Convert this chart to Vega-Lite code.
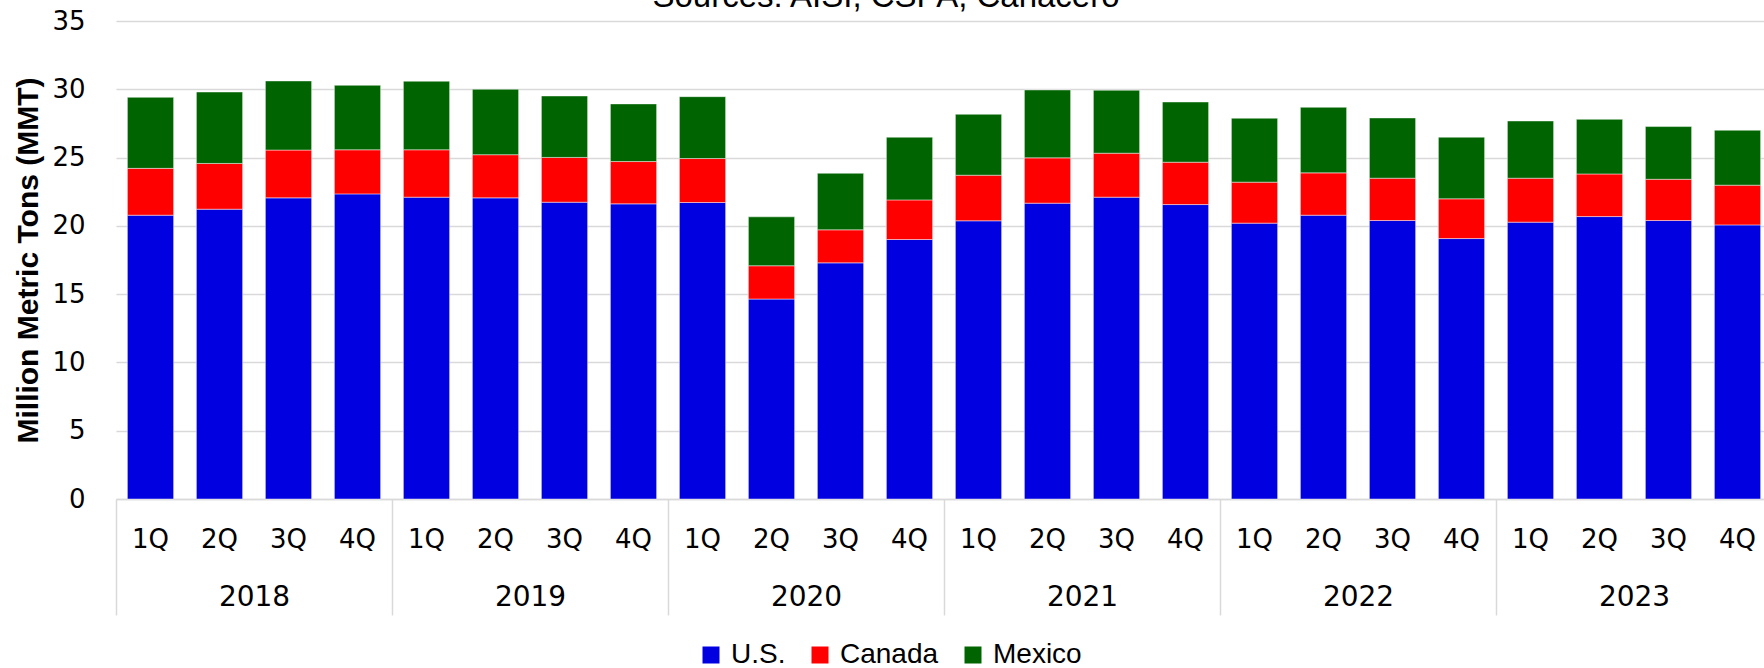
{
  "$schema": "https://vega.github.io/schema/vega-lite/v6.json",
  "autosize": "none",
  "width": 1648,
  "height": 478,
  "padding": {"left": 116, "top": 21, "right": 0, "bottom": 169},
  "background": "white",
  "config": {"view": {"stroke": null}},
  "title": {"text": "Sources: AISI, CSPA, Canacero", "font": "Liberation Sans", "fontSize": 33, "fontWeight": "normal", "color": "#000000", "anchor": "middle", "frame": "group", "dx": -54, "dy": 37, "baseline": "alphabetic", "offset": 5},
  "data": {"values": [
    {"period": "2018 1Q", "country": "U.S.", "mmt": 20.78}, {"period": "2018 1Q", "country": "Canada", "mmt": 3.43}, {"period": "2018 1Q", "country": "Mexico", "mmt": 5.20},
    {"period": "2018 2Q", "country": "U.S.", "mmt": 21.22}, {"period": "2018 2Q", "country": "Canada", "mmt": 3.35}, {"period": "2018 2Q", "country": "Mexico", "mmt": 5.23},
    {"period": "2018 3Q", "country": "U.S.", "mmt": 22.05}, {"period": "2018 3Q", "country": "Canada", "mmt": 3.50}, {"period": "2018 3Q", "country": "Mexico", "mmt": 5.06},
    {"period": "2018 4Q", "country": "U.S.", "mmt": 22.34}, {"period": "2018 4Q", "country": "Canada", "mmt": 3.23}, {"period": "2018 4Q", "country": "Mexico", "mmt": 4.72},
    {"period": "2019 1Q", "country": "U.S.", "mmt": 22.10}, {"period": "2019 1Q", "country": "Canada", "mmt": 3.47}, {"period": "2019 1Q", "country": "Mexico", "mmt": 5.02},
    {"period": "2019 2Q", "country": "U.S.", "mmt": 22.05}, {"period": "2019 2Q", "country": "Canada", "mmt": 3.16}, {"period": "2019 2Q", "country": "Mexico", "mmt": 4.79},
    {"period": "2019 3Q", "country": "U.S.", "mmt": 21.73}, {"period": "2019 3Q", "country": "Canada", "mmt": 3.28}, {"period": "2019 3Q", "country": "Mexico", "mmt": 4.50},
    {"period": "2019 4Q", "country": "U.S.", "mmt": 21.61}, {"period": "2019 4Q", "country": "Canada", "mmt": 3.10}, {"period": "2019 4Q", "country": "Mexico", "mmt": 4.22},
    {"period": "2020 1Q", "country": "U.S.", "mmt": 21.71}, {"period": "2020 1Q", "country": "Canada", "mmt": 3.22}, {"period": "2020 1Q", "country": "Mexico", "mmt": 4.53},
    {"period": "2020 2Q", "country": "U.S.", "mmt": 14.64}, {"period": "2020 2Q", "country": "Canada", "mmt": 2.44}, {"period": "2020 2Q", "country": "Mexico", "mmt": 3.58},
    {"period": "2020 3Q", "country": "U.S.", "mmt": 17.29}, {"period": "2020 3Q", "country": "Canada", "mmt": 2.42}, {"period": "2020 3Q", "country": "Mexico", "mmt": 4.14},
    {"period": "2020 4Q", "country": "U.S.", "mmt": 19.00}, {"period": "2020 4Q", "country": "Canada", "mmt": 2.90}, {"period": "2020 4Q", "country": "Mexico", "mmt": 4.59},
    {"period": "2021 1Q", "country": "U.S.", "mmt": 20.37}, {"period": "2021 1Q", "country": "Canada", "mmt": 3.34}, {"period": "2021 1Q", "country": "Mexico", "mmt": 4.46},
    {"period": "2021 2Q", "country": "U.S.", "mmt": 21.66}, {"period": "2021 2Q", "country": "Canada", "mmt": 3.32}, {"period": "2021 2Q", "country": "Mexico", "mmt": 4.97},
    {"period": "2021 3Q", "country": "U.S.", "mmt": 22.10}, {"period": "2021 3Q", "country": "Canada", "mmt": 3.22}, {"period": "2021 3Q", "country": "Mexico", "mmt": 4.61},
    {"period": "2021 4Q", "country": "U.S.", "mmt": 21.56}, {"period": "2021 4Q", "country": "Canada", "mmt": 3.10}, {"period": "2021 4Q", "country": "Mexico", "mmt": 4.41},
    {"period": "2022 1Q", "country": "U.S.", "mmt": 20.20}, {"period": "2022 1Q", "country": "Canada", "mmt": 3.00}, {"period": "2022 1Q", "country": "Mexico", "mmt": 4.68},
    {"period": "2022 2Q", "country": "U.S.", "mmt": 20.78}, {"period": "2022 2Q", "country": "Canada", "mmt": 3.10}, {"period": "2022 2Q", "country": "Mexico", "mmt": 4.80},
    {"period": "2022 3Q", "country": "U.S.", "mmt": 20.39}, {"period": "2022 3Q", "country": "Canada", "mmt": 3.10}, {"period": "2022 3Q", "country": "Mexico", "mmt": 4.41},
    {"period": "2022 4Q", "country": "U.S.", "mmt": 19.07}, {"period": "2022 4Q", "country": "Canada", "mmt": 2.91}, {"period": "2022 4Q", "country": "Mexico", "mmt": 4.51},
    {"period": "2023 1Q", "country": "U.S.", "mmt": 20.27}, {"period": "2023 1Q", "country": "Canada", "mmt": 3.22}, {"period": "2023 1Q", "country": "Mexico", "mmt": 4.19},
    {"period": "2023 2Q", "country": "U.S.", "mmt": 20.68}, {"period": "2023 2Q", "country": "Canada", "mmt": 3.12}, {"period": "2023 2Q", "country": "Mexico", "mmt": 4.00},
    {"period": "2023 3Q", "country": "U.S.", "mmt": 20.39}, {"period": "2023 3Q", "country": "Canada", "mmt": 3.02}, {"period": "2023 3Q", "country": "Mexico", "mmt": 3.86},
    {"period": "2023 4Q", "country": "U.S.", "mmt": 20.07}, {"period": "2023 4Q", "country": "Canada", "mmt": 2.91}, {"period": "2023 4Q", "country": "Mexico", "mmt": 4.02}
  ]},
  "transform": [
    {"calculate": "indexof(['U.S.', 'Canada', 'Mexico'], datum.country)", "as": "stackOrder"}
  ],
  "resolve": {"axis": {"x": "independent"}},
  "layer": [
    {
      "mark": {"type": "bar", "stroke": "#ffffff", "strokeWidth": 1, "strokeOpacity": 0.45},
      "encoding": {
        "x": {"field": "period", "type": "nominal", "sort": null,
          "scale": {"range": [0, 1656], "paddingInner": 0.33, "paddingOuter": 0.165},
          "axis": {"title": null, "orient": "bottom", "labelAngle": 0, "labelExpr": "slice(datum.value, 5)", "labelFont": "DejaVu Sans", "labelFontSize": 26, "labelColor": "#000000", "labelBaseline": "middle", "labelPadding": 40, "ticks": false, "grid": false, "domain": true, "domainColor": "#d9d9d9", "domainWidth": 1.5}},
        "y": {"field": "mmt", "type": "quantitative", "stack": "zero",
          "scale": {"domain": [0, 35], "nice": false},
          "axis": {"title": "Million Metric Tons (MMT)", "values": [0, 5, 10, 15, 20, 25, 30, 35], "grid": true, "gridColor": "#d9d9d9", "gridWidth": 1.5, "domain": false, "ticks": false, "labelFont": "DejaVu Sans", "labelFontSize": 26, "labelColor": "#000000", "labelPadding": 31, "labelBaseline": "middle", "titleFont": "Liberation Sans", "titleFontSize": 30, "titleFontWeight": "bold", "titleColor": "#000000", "titleX": -88, "titleY": 239, "titleAngle": -90, "titleAlign": "center", "titleBaseline": "middle"}},
        "order": {"field": "stackOrder", "type": "quantitative", "sort": "ascending"},
        "color": {"field": "country", "type": "nominal", "sort": ["U.S.", "Canada", "Mexico"],
          "scale": {"domain": ["U.S.", "Canada", "Mexico"], "range": ["#0000e1", "#ff0000", "#006400"]},
          "legend": {"title": null, "orient": "none", "direction": "horizontal", "legendX": 581, "legendY": 620, "symbolType": "square", "symbolSize": 289, "symbolStrokeWidth": 0, "symbolOpacity": 1, "labelFont": "Liberation Sans", "labelFontSize": 28, "labelColor": "#000000", "labelOffset": 6, "columnPadding": 20, "padding": 0}}
      }
    },
    {
      "mark": {"type": "rule", "opacity": 0},
      "encoding": {
        "x": {"field": "period", "type": "nominal", "sort": null,
          "axis": {"title": null, "orient": "bottom", "labelAngle": 0, "labelExpr": "indexof(datum.value, '2Q') > 0 ? slice(datum.value, 0, 4) : ''", "labelFont": "DejaVu Sans", "labelFontSize": 28, "labelColor": "#000000", "labelBaseline": "middle", "labelPadding": -18, "labelOffset": 69, "tickOffset": -34.5, "ticks": true, "tickSize": 116, "tickColor": "#d9d9d9", "tickWidth": 1.5, "tickOpacity": {"condition": {"test": "indexof(datum.value, '1Q') > 0", "value": 1}, "value": 0}, "grid": false, "domain": false, "labelOverlap": false}}
      }
    }
  ]
}
